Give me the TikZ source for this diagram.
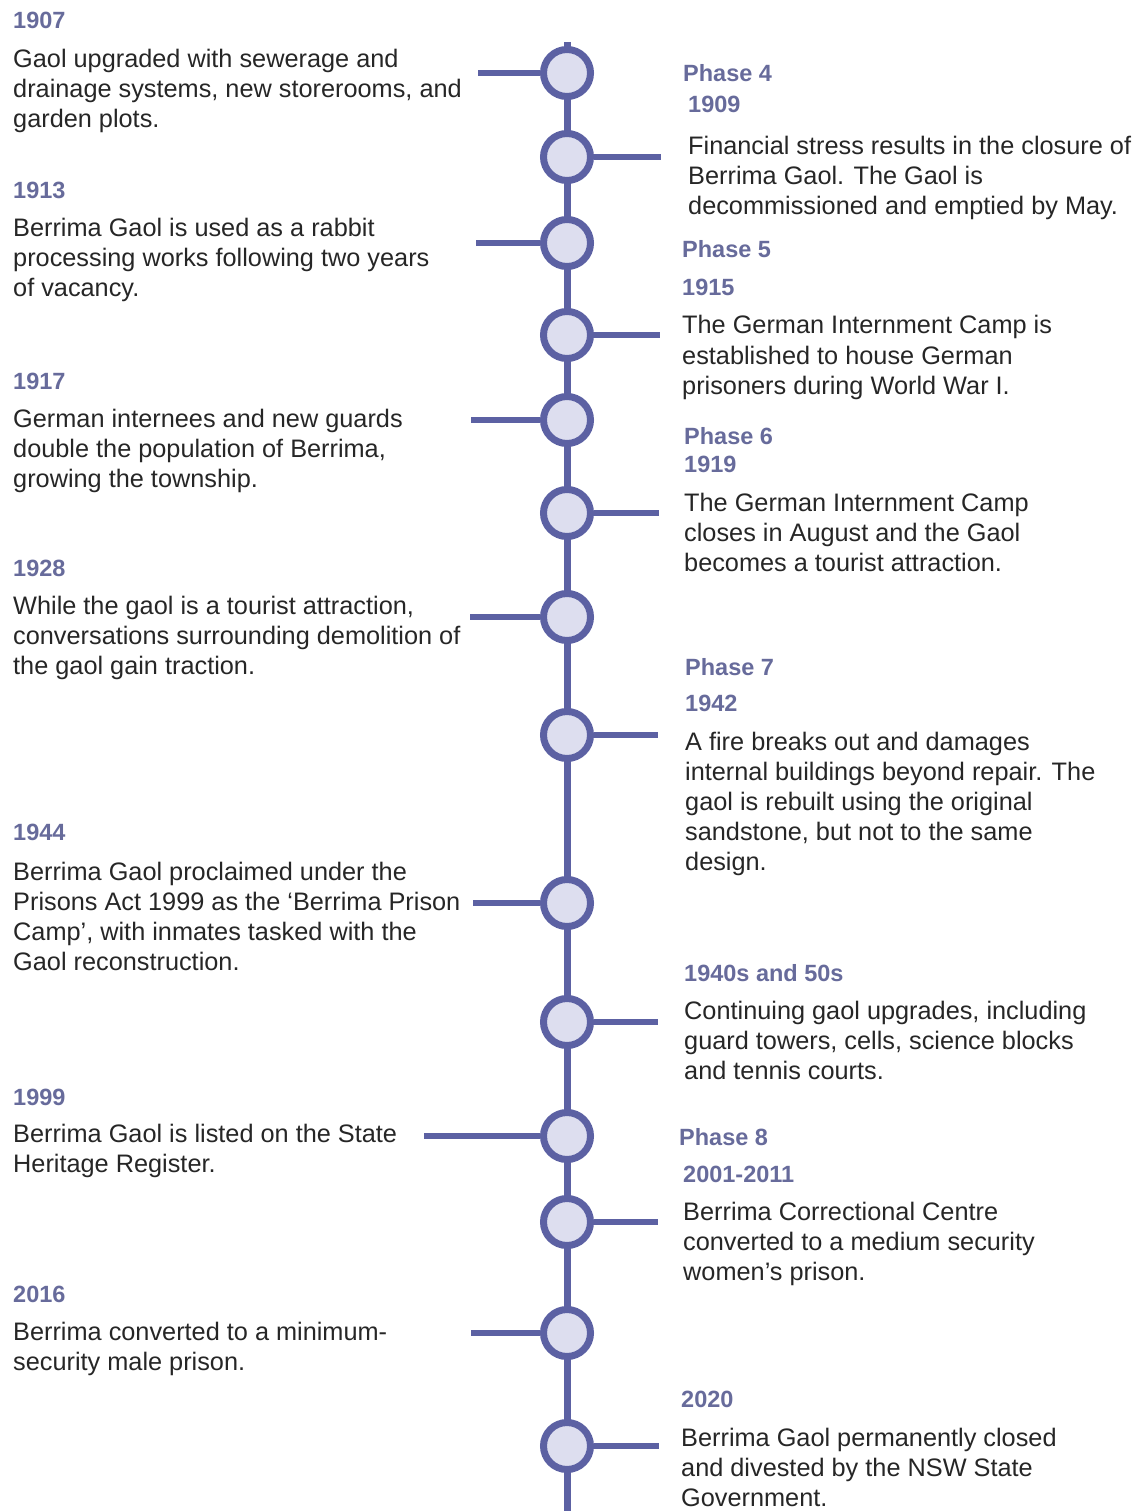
\documentclass[tikz,border=0pt]{standalone}
\usepackage{fontspec}
\setmainfont{Liberation Sans}
\usetikzlibrary{positioning}

\definecolor{spine}{RGB}{92,97,163}
\definecolor{stopfill}{RGB}{221,222,239}
\definecolor{headblue}{RGB}{103,107,155}
\definecolor{bodygray}{RGB}{38,38,38}

% lines of a text block, baseline on the first line
\newcommand{\textlines}[1]{\begin{tabular}[t]{@{}l@{}}#1\end{tabular}}

\begin{document}
\begin{tikzpicture}[
			x=1pt, y=-1pt,
			line cap=butt,
			stop/.style={circle, draw=spine, fill=stopfill, line width=7pt, minimum size=47pt, inner sep=0pt},
			branch/.style={draw=spine, line width=6pt},
			head/.style={anchor=base west, inner sep=0pt, text=headblue, font=\fontsize{23.5}{27}\selectfont\bfseries},
			body/.style={anchor=base west, inner sep=0pt, text=bodygray, font=\fontsize{25.3}{30}\selectfont}
			]
			\useasboundingbox (0,0) rectangle (1143,1511);
			
			% Spine
			\coordinate (top) at (567,42);
			\coordinate (bottom) at (567,1511);
			\draw[branch, line width=7pt] (top) -- (bottom);
			
			% Stops
			\foreach \n/\y in {1907/73, 1909/157, 1913/243, 1915/335, 1917/420, 1919/513, 1928/617,
				1942/735, 1944/903, 1950/1022, 1999/1136, 2001/1222, 2016/1333, 2020/1446}
			\node[stop] (c\n) at (567,\y) {};
			
			% Branches to the left
			\coordinate (e1907) at (478,73);
			\coordinate (e1913) at (476,243);
			\coordinate (e1917) at (471,420);
			\coordinate (e1928) at (470,617);
			\coordinate (e1944) at (473,903);
			\coordinate (e1999) at (424,1136);
			\coordinate (e2016) at (471,1333);
			\foreach \n in {1907,1913,1917,1928,1944,1999,2016}
			\draw[branch] (c\n.west) -- (e\n);
			
			% Branches to the right
			\coordinate (e1909) at (661,157);
			\coordinate (e1915) at (660,335);
			\coordinate (e1919) at (659,513);
			\coordinate (e1942) at (658,735);
			\coordinate (e1950) at (658,1022);
			\coordinate (e2001) at (658,1222);
			\coordinate (e2020) at (659,1446);
			\foreach \n in {1909,1915,1919,1942,1950,2001,2020}
			\draw[branch] (c\n.east) -- (e\n);
			
			% Left column
			\node[head] (h1907) at (13,29) {1907};
			\node[body] (t1907) at (13,68) {\textlines{Gaol upgraded with sewerage and\\drainage systems, new storerooms, and\\garden plots.}};
			\node[head] (h1913) at (13,199) {1913};
			\node[body] (t1913) at (13,237) {\textlines{Berrima Gaol is used as a rabbit\\processing works following two years\\of vacancy.}};
			\node[head] (h1917) at (13,389) {1917};
			\node[body] (t1917) at (13,427) {\textlines{German internees and new guards\\double the population of Berrima,\\growing the township.}};
			\node[head] (h1928) at (13,576) {1928};
			\node[body] (t1928) at (13,614) {\textlines{While the gaol is a tourist attraction,\\conversations surrounding demolition of\\the gaol gain traction.}};
			\node[head] (h1944) at (13,840) {1944};
			\node[body] (t1944) at (13,880) {\textlines{Berrima Gaol proclaimed under the\\Prisons Act 1999 as the `Berrima Prison\\Camp', with inmates tasked with the\\Gaol reconstruction.}};
			\node[head] (h1999) at (13,1105) {1999};
			\node[body] (t1999) at (13,1142) {\textlines{Berrima Gaol is listed on the State\\Heritage Register.}};
			\node[head] (h2016) at (13,1302) {2016};
			\node[body] (t2016) at (13,1340) {\textlines{Berrima converted to a minimum-\\security male prison.}};
			
			% Right column
			\node[head] (p4) at (683,82) {Phase 4};
			\node[head] (h1909) at (688,113) {1909};
			\node[body] (t1909) at (688,155) {\textlines{Financial stress results in the closure of\\Berrima Gaol. The Gaol is\\decommissioned and emptied by May.}};
			\node[head] (p5) at (682,258) {Phase 5};
			\node[head] (h1915) at (682,296) {1915};
			\node[body] (t1915) at (682,334) {\textlines{The German Internment Camp is\\established to house German\\prisoners during World War I.}};
			\node[head] (p6) at (684,444) {Phase 6};
			\node[head] (h1919) at (684,472) {1919};
			\node[body] (t1919) at (684,511) {\textlines{The German Internment Camp\\closes in August and the Gaol\\becomes a tourist attraction.}};
			\node[head] (p7) at (685,675) {Phase 7};
			\node[head] (h1942) at (685,711) {1942};
			\node[body] (t1942) at (685,750) {\textlines{A fire breaks out and damages\\internal buildings beyond repair. The\\gaol is rebuilt using the original\\sandstone, but not to the same\\design.}};
			\node[head] (h1950) at (684,981) {1940s and 50s};
			\node[body] (t1950) at (684,1019) {\textlines{Continuing gaol upgrades, including\\guard towers, cells, science blocks\\and tennis courts.}};
			\node[head] (p8) at (679,1145) {Phase 8};
			\node[head] (h2001) at (683,1182) {2001-2011};
			\node[body] (t2001) at (683,1220) {\textlines{Berrima Correctional Centre\\converted to a medium security\\women's prison.}};
			\node[head] (h2020) at (681,1407) {2020};
			\node[body] (t2020) at (681,1446) {\textlines{Berrima Gaol permanently closed\\and divested by the NSW State\\Government.}};
		\end{tikzpicture}
\end{document}
